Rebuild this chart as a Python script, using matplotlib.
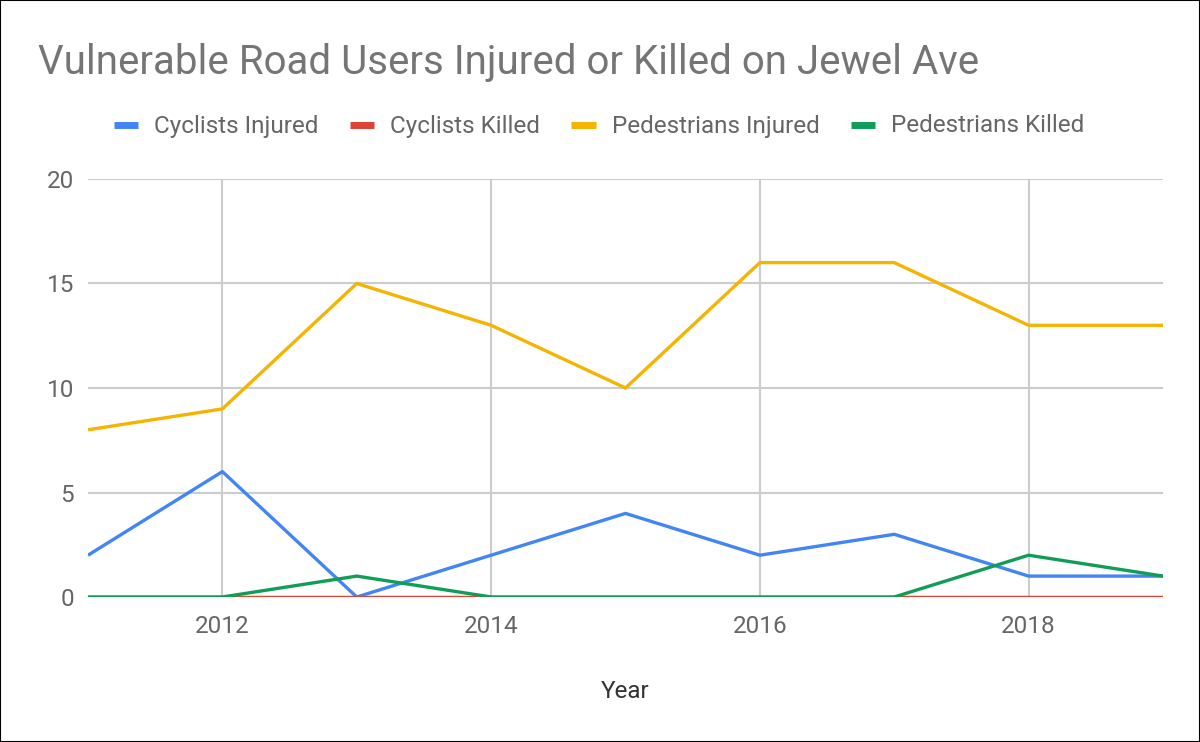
import matplotlib.pyplot as plt
from matplotlib.patches import Rectangle

plt.rcParams['font.family'] = ['Roboto', 'DejaVu Sans']

years = [2011, 2012, 2013, 2014, 2015, 2016, 2017, 2018, 2019]
cyclists_injured = [2, 6, 0, 2, 4, 2, 3, 1, 1]
cyclists_killed = [0, 0, 0, 0, 0, 0, 0, 0, 0]
pedestrians_injured = [8, 9, 15, 13, 10, 16, 16, 13, 13]
pedestrians_killed = [0, 0, 1, 0, 0, 0, 0, 2, 1]

series = [
    ("Cyclists Injured", cyclists_injured, "#4285f4"),
    ("Cyclists Killed", cyclists_killed, "#db4437"),
    ("Pedestrians Injured", pedestrians_injured, "#f4b400"),
    ("Pedestrians Killed", pedestrians_killed, "#0f9d58"),
]

W, H = 1200, 742
fig = plt.figure(figsize=(W / 100, H / 100), dpi=100)
ax = fig.add_axes([88 / W, 145 / H, (1163 - 88) / W, (597 - 179) / H])

for name, vals, col in series:
    ax.plot(years, vals, color=col, lw=2.4, label=name, solid_capstyle="butt", zorder=3)

ax.axhline(0, color="#333333", lw=1.5, zorder=2)
ax.set_xlim(2011, 2019)
ax.set_ylim(0, 20)
ax.set_xticks([2012, 2014, 2016, 2018])
ax.set_yticks([0, 5, 10, 15, 20])
ax.grid(True, color="#cccccc", lw=1.5, zorder=0)
for s in ax.spines.values():
    s.set_visible(False)
ax.tick_params(axis="x", length=0, labelsize=17.5, labelcolor="#666666", pad=13)
ax.tick_params(axis="y", length=0, labelsize=17.5, labelcolor="#666666", pad=10)
ax.set_xlabel("Year", fontsize=17.5, color="#333333", labelpad=30)

fig.text(38 / W, 1 - 63 / H, "Vulnerable Road Users Injured or Killed on Jewel Ave",
         fontsize=29, color="#757575", va="center", ha="left")

fig.legend(loc="center", bbox_to_anchor=(599 / W, 1 - 126 / H), ncol=4, frameon=False,
           fontsize=17.5, labelcolor="#666666", handlelength=1.0, handleheight=0.5,
           columnspacing=1.3, handletextpad=0.65)
for line in fig.legends[0].get_lines():
    line.set_linewidth(5)

fig.add_artist(Rectangle((0, 0), 1, 1, transform=fig.transFigure, fill=False,
                         edgecolor="black", lw=1.5))

fig.savefig("out.png", dpi=100)
